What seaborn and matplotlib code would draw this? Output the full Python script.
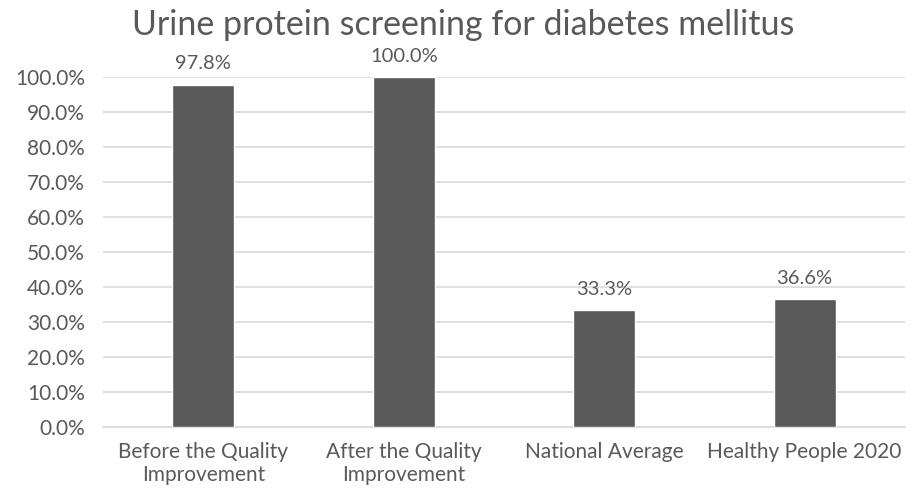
import numpy as np
import pandas as pd
import matplotlib
matplotlib.use("Agg")
import matplotlib.pyplot as plt
import seaborn as sns
from matplotlib.ticker import PercentFormatter

# Chart values
categories = ["Before the Quality\nImprovement", "After the Quality\nImprovement",
              "National Average", "Healthy People 2020"]
values = [97.8, 100.0, 33.3, 36.6]
labels = ["97.8%", "100.0%", "33.3%", "36.6%"]

df = pd.DataFrame({"group": categories, "rate": values})

sns.set_style("white")
plt.rcParams["font.family"] = ["Lato", "DejaVu Sans"]
grey = "#595959"

fig = plt.figure(figsize=(9.13, 5), dpi=100)
ax = fig.add_axes([0.113, 0.146, 0.878, 0.70])
sns.barplot(data=df, x="group", y="rate", color=grey, width=0.31,
            saturation=1, ax=ax, zorder=3)

# value labels above bars
for i, (v, t) in enumerate(zip(values, labels)):
    ax.text(i, v + 3.5, t, ha="center", va="bottom", fontsize=14.5, color=grey)

ax.set_ylim(0, 100)
ax.set_xlim(-0.5, 3.5)
ax.set_yticks(np.arange(0, 101, 10))
ax.yaxis.set_major_formatter(PercentFormatter(decimals=1))
ax.yaxis.grid(True, color="#d9d9d9", linewidth=1.2, zorder=0)
ax.set_axisbelow(True)
for s in ["top", "right", "left"]:
    ax.spines[s].set_visible(False)
ax.spines["bottom"].set_color("#d9d9d9")
ax.spines["bottom"].set_linewidth(1.2)
ax.tick_params(axis="both", length=0, colors=grey, labelsize=15)
ax.tick_params(axis="x", pad=11)
ax.tick_params(axis="y", pad=13)
ax.set_xlabel("")
ax.set_ylabel("")
ax.set_title("Urine protein screening for diabetes mellitus", fontsize=24.5,
             color=grey, pad=30, x=0.449)

fig.savefig("out.png", dpi=100)
